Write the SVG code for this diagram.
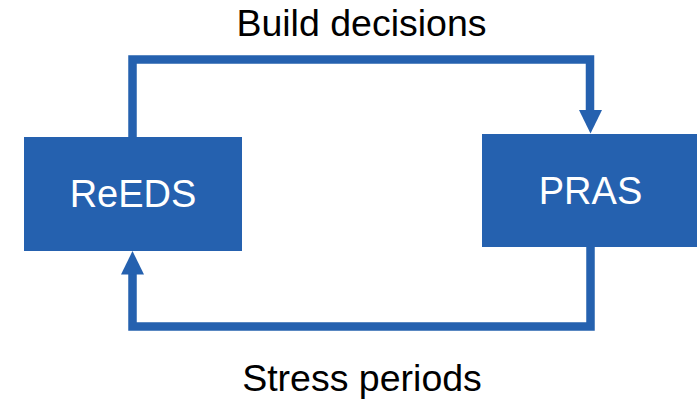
<svg xmlns="http://www.w3.org/2000/svg" width="697" height="400" viewBox="0 0 697 400">
<style>
.box{fill:#2561AF}
.lbl{font-family:"Liberation Sans",Arial,sans-serif;font-size:38px;fill:#fff;text-anchor:middle}
.cap{font-family:"Liberation Sans",Arial,sans-serif;font-size:37.5px;fill:#000;text-anchor:middle}
.con{fill:none;stroke:#2561AF;stroke-width:8.5}
.head{fill:#2561AF}
</style>
<rect width="697" height="400" fill="#fff"/>
<g id="connectors">
<path class="con" d="M132.5,137 V59.5 H590 V110"/>
<polygon class="head" points="579,110 602,110 590.5,133.5"/>
<path class="con" d="M590.5,247 V326.5 H132.5 V274"/>
<polygon class="head" points="121,274.5 144,274.5 132.5,251"/>
<text class="cap" x="361.5" y="36">Build decisions</text>
<text class="cap" x="362" y="391">Stress periods</text>
</g>
<g id="reeds">
<rect class="box" x="24" y="137" width="218" height="114"/>
<text class="lbl" x="133" y="207">ReEDS</text>
</g>
<g id="pras">
<rect class="box" x="482" y="134" width="215" height="113"/>
<text class="lbl" x="590.5" y="204">PRAS</text>
</g>
</svg>
